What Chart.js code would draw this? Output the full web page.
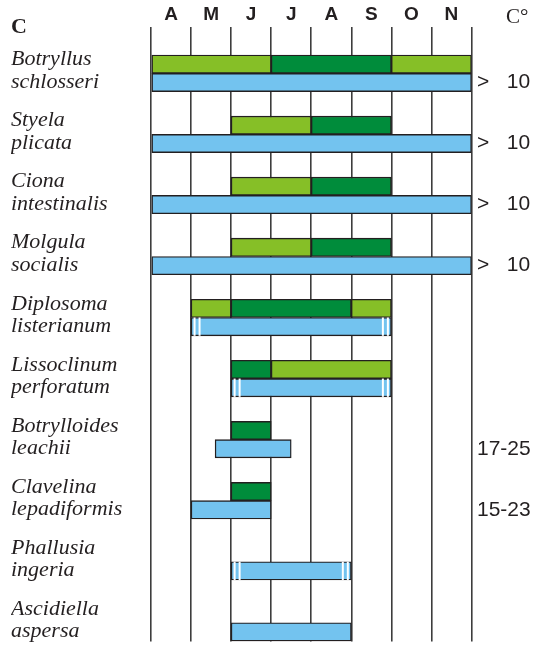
<!DOCTYPE html>
<html>
<head>
<meta charset="utf-8">
<script src="https://cdn.jsdelivr.net/npm/chart.js@4/dist/chart.umd.min.js"></script>
<style>
  html, body { margin: 0; padding: 0; background: #fff; }
  canvas { display: block; }
</style>
</head>
<body>
<canvas id="chart" width="535" height="648"></canvas>
<script>
// Months from April to November, value 0 = start of April, 8 = end of November
const months = ['A', 'M', 'J', 'J', 'A', 'S', 'O', 'N'];

const species = [
    ['Botryllus', 'schlosseri'],
    ['Styela', 'plicata'],
    ['Ciona', 'intestinalis'],
    ['Molgula', 'socialis'],
    ['Diplosoma', 'listerianum'],
    ['Lissoclinum', 'perforatum'],
    ['Botrylloides', 'leachii'],
    ['Clavelina', 'lepadiformis'],
    ['Phallusia', 'ingeria'],
    ['Ascidiella', 'aspersa']
];

// [start, end] in months
const lightGreenA = [[0, 3], [2, 4], [2, 4], [2, 4], [1, 2], [3, 6], null, null, null, null];
const darkGreen   = [[3, 6], [4, 6], [4, 6], [4, 6], [2, 5], [2, 3], [2, 3], [2, 3], null, null];
const lightGreenB = [[6, 8], null, null, null, [5, 6], null, null, null, null, null];
const blue        = [[0, 8], [0, 8], [0, 8], [0, 8], [1, 6], [2, 6], [1.6, 3.5], [1, 3], [2, 5], [2, 5]];

// temperature column and rows whose blue bar has break marks
const temps = ['>   10', '>   10', '>   10', '>   10', '', '', '17-25', '15-23', '', ''];
const breaks = [false, false, false, false, true, true, false, false, true, false];

const LIGHT = '#86bf27';
const DARK = '#008c3b';
const BLUE = '#73c3ef';
const INK = '#231f20';

const toPoints = arr => arr.map((r, i) => r ? { x: r, y: i } : null).filter(p => p);

function barSet(label, arr, color, stack) {
    return {
        label: label,
        data: toPoints(arr),
        backgroundColor: color,
        borderColor: INK,
        borderWidth: 1.4,
        borderSkipped: false,
        barThickness: 18.3,
        stack: stack
    };
}

// no extra room for the first/last tick labels
const noPad = s => { s.paddingTop = 0; s.paddingBottom = 0; };

const extras = {
    id: 'extras',
    afterDatasetsDraw(chart) {
        const ctx = chart.ctx;
        const meta = chart.getDatasetMeta(3);
        ctx.save();
        ctx.strokeStyle = '#fff';
        ctx.lineWidth = 2;
        meta.data.forEach((bar, i) => {
            if (!breaks[i]) return;
            const p = bar.getProps(['x', 'base', 'y', 'height'], true);
            const l = Math.min(p.x, p.base), r = Math.max(p.x, p.base);
            [l + 3.5, l + 8.5, r - 8.5, r - 3.5].forEach(px => {
                ctx.beginPath();
                ctx.moveTo(px, p.y - p.height / 2);
                ctx.lineTo(px, p.y + p.height / 2);
                ctx.stroke();
            });
        });
        ctx.restore();
    },
    afterDraw(chart) {
        const ctx = chart.ctx;
        ctx.save();
        ctx.fillStyle = INK;
        ctx.textBaseline = 'alphabetic';
        ctx.textAlign = 'left';
        ctx.font = 'bold 22px "Liberation Serif"';
        ctx.fillText('C', 11, 33);
        ctx.font = '21px "Liberation Serif"';
        ctx.fillText('C°', 506, 22.5);
        ctx.restore();
    }
};

new Chart(document.getElementById('chart'), {
    type: 'bar',
    data: {
        datasets: [
            barSet('light1', lightGreenA, LIGHT, 'g'),
            barSet('dark', darkGreen, DARK, 'g'),
            barSet('light2', lightGreenB, LIGHT, 'g'),
            barSet('blue', blue, BLUE, 'b')
        ]
    },
    options: {
        indexAxis: 'y',
        responsive: false,
        animation: false,
        layout: { padding: { left: 11, right: 0, top: 0, bottom: 6.5 } },
        scales: {
            x: {
                type: 'linear',
                position: 'top',
                min: 0,
                max: 8,
                stacked: false,
                border: { display: false },
                grid: { color: '#3d3d3d', lineWidth: 1.6, drawTicks: false },
                ticks: {
                    stepSize: 1,
                    autoSkip: false,
                    maxRotation: 0,
                    labelOffset: 20,
                    padding: 1,
                    color: INK,
                    font: { family: '"Liberation Sans", Arial', size: 19, weight: 'bold' },
                    callback: v => months[v] || ''
                },
                afterFit: s => { s.height = 27; s.paddingLeft = 0; s.paddingRight = 0; }
            },
            y: {
                type: 'linear',
                position: 'left',
                reverse: true,
                offset: false,
                bounds: 'data',
                min: -0.759,
                max: 9.307,
                border: { display: false },
                grid: { display: false, drawTicks: false },
                afterBuildTicks: s => { s.ticks = species.map((_, i) => ({ value: i - 0.04 })); },
                ticks: {
                    autoSkip: false,
                    crossAlign: 'far',
                    color: INK,
                    font: { family: '"Liberation Serif", "Times New Roman"', size: 22, style: 'italic', lineHeight: 1.03 },
                    callback: v => species[Math.round(v)]
                },
                afterFit: s => { s.width = 140; noPad(s); }
            },
            y2: {
                type: 'linear',
                position: 'right',
                reverse: true,
                offset: false,
                bounds: 'data',
                min: -0.759,
                max: 9.307,
                border: { display: false },
                grid: { display: false, drawTicks: false },
                afterBuildTicks: s => {
                    s.ticks = temps.map((t, i) => t ? { value: i + 0.15 } : null).filter(t => t);
                },
                ticks: {
                    autoSkip: false,
                    padding: 5.5,
                    color: INK,
                    font: { family: '"Liberation Sans", Arial', size: 21 },
                    callback: v => temps[Math.round(v)]
                },
                afterFit: s => { s.width = 63.5; noPad(s); }
            }
        },
        plugins: {
            legend: { display: false },
            tooltip: { enabled: false }
        }
    },
    plugins: [extras]
});
</script>
</body>
</html>
